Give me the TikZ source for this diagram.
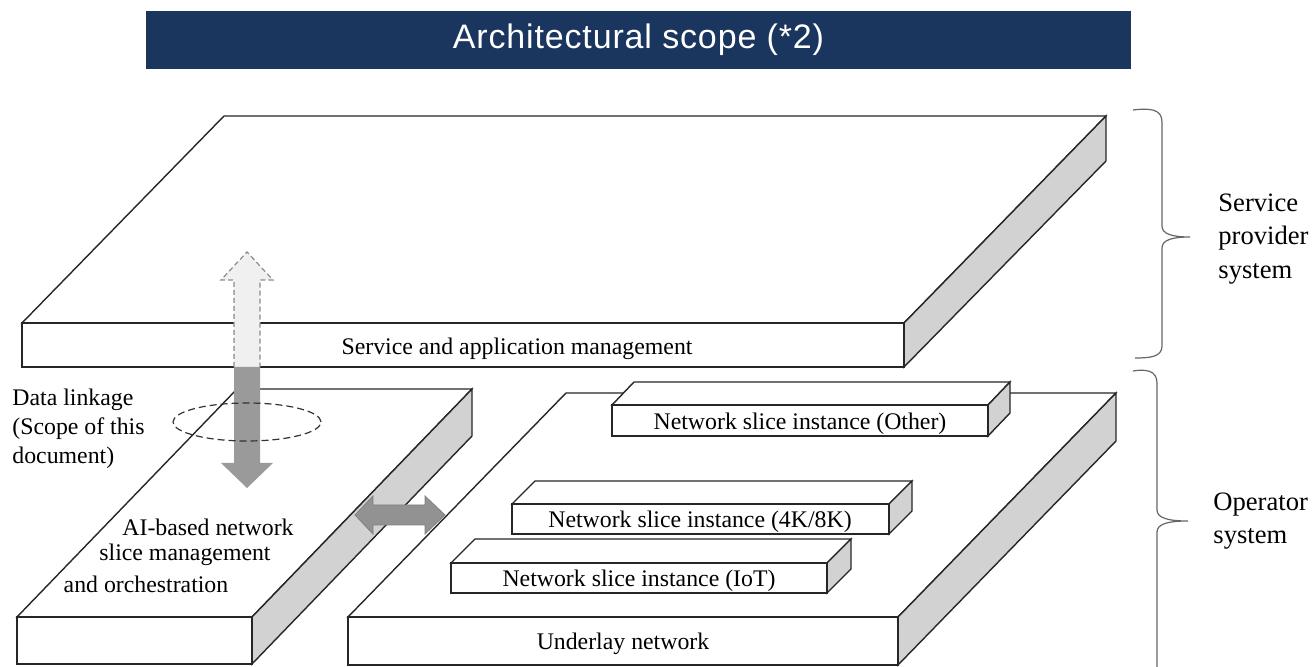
\documentclass[tikz,border=0pt]{standalone}
\usepackage{fontspec}
\setmainfont{Liberation Serif}
\newfontfamily\titlefont{Liberation Sans}[LetterSpace=2.5]
\usepackage{tikz}
\definecolor{titlebar}{HTML}{1A365E}
\definecolor{sideface}{HTML}{D2D2D2}
\definecolor{arrowgray}{HTML}{9A9A9A}

\begin{document}
\begin{tikzpicture}[x=0.5pt,y=-0.5pt,
	slab/.style={draw=black!85,line width=0.7pt,fill=white},
	side/.style={draw=black!85,line width=0.7pt,fill=sideface},
	lbl/.style={font=\fontsize{11.9}{14.5}\selectfont,inner sep=0pt},
	sys/.style={font=\fontsize{13.3}{16.6}\selectfont,align=left,anchor=west,inner sep=0pt},
	bracket/.style={draw=black!60,line width=0.6pt}]
		\useasboundingbox (0,0) rectangle (1314,667);
		\node[fill=titlebar,minimum width=492.5pt,minimum height=29pt,inner sep=0pt,text=white,font=\titlefont\fontsize{17}{20}\selectfont] (title) at (638.5,40) {Architectural scope (*2)};
		% service and application management
		\draw[slab] (22,323) -- (224,116) -- (1106,116) -- (904,323) -- cycle;
		\draw[side] (904,323) -- (1106,116) -- (1106,161) -- (904,367) -- cycle;
		\draw[slab] (22,323) rectangle (904,367);
		% AI-based management
		\draw[slab] (17,617) -- (237,389) -- (472,389) -- (252,617) -- cycle;
		\draw[side] (252,617) -- (472,389) -- (472,436) -- (252,664) -- cycle;
		\draw[slab] (17,617) rectangle (252,664);
		% underlay network
		\draw[slab] (348,617) -- (566,393) -- (1116,393) -- (898,617) -- cycle;
		\draw[side] (898,617) -- (1116,393) -- (1116,441) -- (898,665) -- cycle;
		\draw[slab] (348,617) rectangle (898,665);
		% slice instances
		\draw[slab] (612,405) -- (634,382) -- (1010,382) -- (988,405) -- cycle;
		\draw[side] (988,405) -- (1010,382) -- (1010,413) -- (988,436) -- cycle;
		\draw[slab] (612,405) rectangle (988,436);
		\draw[slab] (512,504) -- (535,481) -- (912,481) -- (889,504) -- cycle;
		\draw[side] (889,504) -- (912,481) -- (912,511) -- (889,534) -- cycle;
		\draw[slab] (512,504) rectangle (889,534);
		\draw[slab] (451,563) -- (475,539) -- (851,539) -- (827,563) -- cycle;
		\draw[side] (827,563) -- (851,539) -- (851,569) -- (827,593) -- cycle;
		\draw[slab] (451,563) rectangle (827,593);
		% data linkage arrows
		\draw[dashed,dash pattern=on 2.5pt off 1.5pt,draw=gray!90,fill=gray!12,line width=0.6pt] (234,367) -- (234,280) -- (221,280) -- (247,252) -- (273,280) -- (260,280) -- (260,367);
		\fill[arrowgray] (234,367) -- (234,463) -- (221,463) -- (247,488) -- (273,463) -- (260,463) -- (260,367) -- cycle;
		\draw[fill=arrowgray!95!black,draw=gray,line width=0.4pt] (355,515) -- (373,496) -- (373,505) -- (425,505) -- (425,496) -- (445,515) -- (425,534) -- (425,525) -- (373,525) -- (373,534) -- cycle;
		\draw[dashed,dash pattern=on 3.5pt off 2pt,black!80,line width=0.6pt] (247,422) ellipse [x radius=37pt,y radius=9.5pt];
		% labels
		\node[lbl] (sam) at (517,349) {Service and application management};
		\node[lbl,align=left,anchor=west] (link) at (12,429) {Data linkage\\(Scope of this\\document)};
		\node[lbl] (ai1) at (208,527) {AI-based network};
		\node[lbl] (ai2) at (185,555) {slice management};
		\node[lbl] (ai3) at (146,584) {and orchestration};
		\node[lbl] (other) at (800,424) {Network slice instance (Other)};
		\node[lbl] (uhd) at (700,522) {Network slice instance (4K/8K)};
		\node[lbl] (iot) at (639,581) {Network slice instance (IoT)};
		\node[lbl] (under) at (623,644) {Underlay network};
		% braces
		\draw[bracket] (1133,110) .. controls (1150,108) and (1162,109) .. (1162,122) -- (1162,226) .. controls (1162,234) and (1172,237) .. (1190,237) .. controls (1172,237) and (1162,240) .. (1162,248) -- (1162,346) .. controls (1162,357) and (1150,358) .. (1135,358);
		\draw[bracket] (1133,371) .. controls (1145,369) and (1157,370) .. (1157,383) -- (1157,510) .. controls (1157,518) and (1168,521) .. (1188,521) .. controls (1168,521) and (1157,524) .. (1157,532) -- (1157,670);
		\node[sys] (sps) at (1218,239) {Service\\provider\\system};
		\node[sys] (ops) at (1213,521) {Operator\\system};
	\end{tikzpicture}
\end{document}
